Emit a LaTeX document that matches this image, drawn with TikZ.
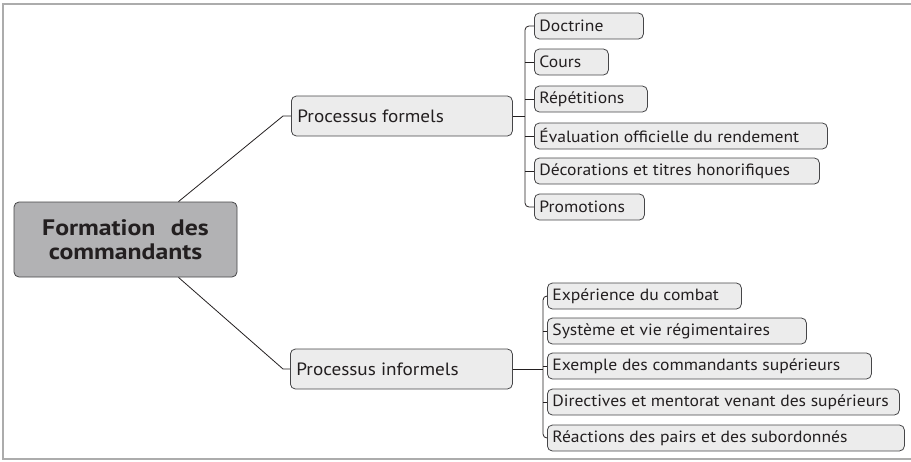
\documentclass[tikz,border=0pt]{standalone}
\usepackage{fontspec}
\setmainfont{PT Sans}[FakeStretch=1.08]
\newfontfamily\rootfont{PT Sans}[FakeStretch=1.15]

\definecolor{framegray}{RGB}{172,172,172}
\definecolor{rootgray}{RGB}{178,178,180}
\definecolor{leafgray}{RGB}{236,236,236}
\definecolor{linegray}{RGB}{70,70,72}
\definecolor{textgray}{RGB}{35,31,32}

% left aligned text in a box of fixed width
\newcommand{\boxtext}[2]{\makebox[#1][l]{#2}}

\begin{document}
\begin{tikzpicture}[x=1pt, y=-1pt,
  root/.style={draw=linegray, fill=rootgray, rounded corners=5pt, line width=0.8pt,
    minimum width=223pt, minimum height=75pt, align=center, text=textgray,
    font=\rootfont\fontsize{22.4}{24}\selectfont\bfseries},
  branch/.style={draw=linegray, fill=leafgray, rounded corners=5pt, line width=0.8pt,
    anchor=west, minimum height=40pt, inner xsep=6pt, text=textgray,
    font=\fontsize{17.8}{20}\selectfont},
  leaf/.style={draw=linegray, fill=leafgray, rounded corners=5pt, line width=0.8pt,
    anchor=west, minimum height=26pt, inner ysep=0pt, inner xsep=5pt,
    text=textgray, font=\fontsize{16.3}{19}\selectfont},
  link/.style={draw=textgray, line width=0.8pt}]

  \useasboundingbox (0,0) rectangle (911,461);

  % frame
  \draw[framegray, line width=1.2pt] (915,4) -- (3,4) -- (3,459) -- (915,459);

  % root
  \node[root] (root) at (125.5,239.5) {Formation\hspace{0.4em} des\\commandants};

  % branches
  \node[branch] (formels) at (291,116) {\boxtext{209pt}{Processus formels}};
  \node[branch] (informels) at (290,369) {\boxtext{210pt}{Processus informels}};

  \draw[link] ([xshift=53pt]root.north) -- ([xshift=-8pt]formels.west) -- (formels.west);
  \draw[link] ([xshift=53pt]root.south) -- ([xshift=-7pt]informels.west) -- (informels.west);

  % formal processes
  \node[leaf] (doctrine)    at (534,26)  {\boxtext{99pt}{Doctrine}};
  \node[leaf] (cours)       at (534,62)  {\boxtext{64pt}{Cours}};
  \node[leaf] (repetitions) at (534,99)  {\boxtext{103pt}{Répétitions}};
  \node[leaf] (evaluation)  at (534,136) {\boxtext{283pt}{Évaluation officielle du rendement}};
  \node[leaf] (decorations) at (534,171) {\boxtext{275pt}{Décorations et titres honorifiques}};
  \node[leaf] (promotions)  at (534,207) {\boxtext{100pt}{Promotions}};

  \coordinate (ftrunk) at (525,0);
  \draw[link] (formels.east) -- (formels.east -| ftrunk);
  \draw[link, rounded corners=4pt] (doctrine.west) -- (doctrine.west -| ftrunk)
    -- (promotions.west -| ftrunk) -- (promotions.west);
  \foreach \n in {cours,repetitions,evaluation,decorations}
    \draw[link] (\n.west) -- (\n.west -| ftrunk);

  % informal processes
  \node[leaf] (experience) at (547,296) {\boxtext{184pt}{Expérience du combat}};
  \node[leaf] (systeme)    at (547,331) {\boxtext{249pt}{Système et vie régimentaires}};
  \node[leaf] (exemple)    at (547,366) {\boxtext{314pt}{Exemple des commandants supérieurs}};
  \node[leaf] (directives) at (547,402) {\boxtext{342pt}{Directives et mentorat venant des supérieurs}};
  \node[leaf] (reactions)  at (547,438) {\boxtext{347pt}{Réactions des pairs et des subordonnés}};

  \coordinate (itrunk) at (543,0);
  \draw[link] (informels.east) -- (informels.east -| itrunk);
  \draw[link, rounded corners=4pt] (experience.west) -- (experience.west -| itrunk)
    -- (reactions.west -| itrunk) -- (reactions.west);
  \foreach \n in {systeme,exemple,directives}
    \draw[link] (\n.west) -- (\n.west -| itrunk);

\end{tikzpicture}
\end{document}
